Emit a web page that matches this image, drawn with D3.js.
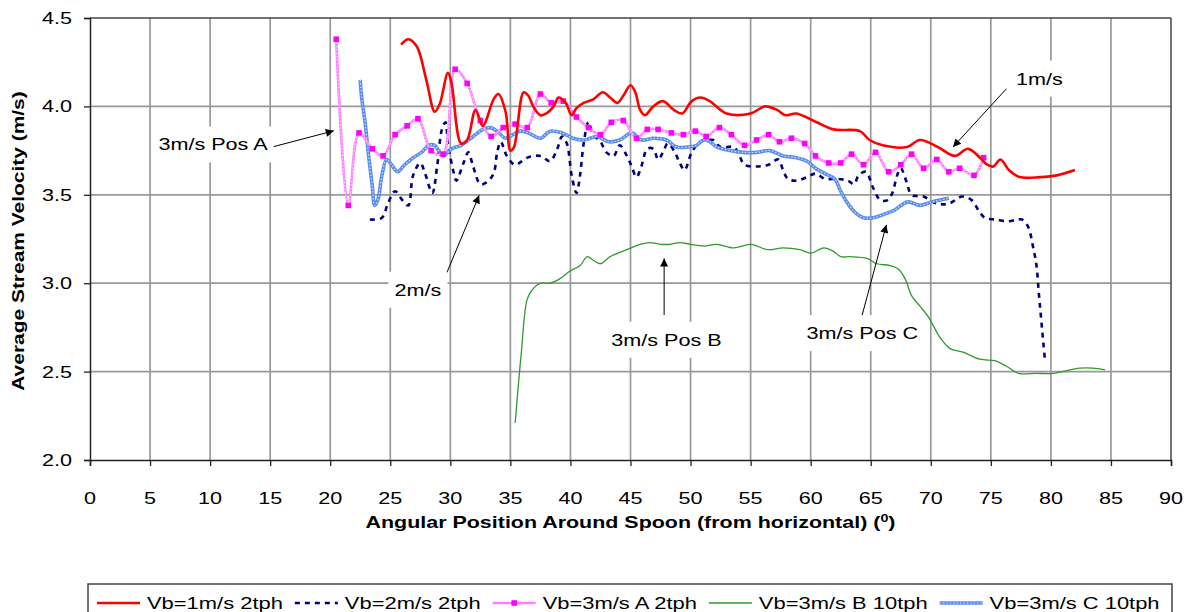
<!DOCTYPE html>
<html>
<head>
<meta charset="utf-8">
<title>Average Stream Velocity</title>
<script src="https://d3js.org/d3.v7.min.js"></script>
<style>
  body { margin: 0; background: #fff; }
  text { font-family: "Liberation Sans", Arial, sans-serif; fill: #000; }
</style>
</head>
<body>
<script>
// ---- data (angle in degrees, velocity in m/s) ----
var xTicks = [0,5,10,15,20,25,30,35,40,45,50,55,60,65,70,75,80,85,90];
var yTicks = [2.0,2.5,3.0,3.5,4.0,4.5];

var vb1 = [[25.9,4.35],[26.5,4.38],[27.2,4.34],[28.0,4.15],[28.7,3.97],[29.1,4.01],[29.8,4.19],[30.1,4.13],
  [30.9,3.79],[31.4,3.81],[32.1,3.98],[32.7,3.89],[33.6,4.04],[34.0,4.07],[34.6,3.97],[35.0,3.75],[35.3,3.77],
  [36.1,4.08],[36.5,4.06],[36.9,4.00],[37.5,3.95],[38.0,3.96],[38.6,4.00],[39.0,4.05],[39.6,4.02],[40.1,3.95],
  [40.5,3.99],[41.1,4.02],[41.9,4.04],[42.7,4.08],[43.3,4.05],[43.9,4.02],[44.4,4.06],[45.0,4.12],[45.4,4.08],
  [45.8,3.98],[46.2,3.95],[46.9,4.00],[47.7,4.03],[48.6,3.98],[49.3,3.96],[50.1,4.03],[50.8,4.05],[51.6,4.03],
  [53.0,3.96],[55.0,3.96],[56.2,4.00],[57.2,3.98],[57.9,3.95],[58.8,3.96],[60.5,3.91],[61.9,3.87],[64.1,3.86],
  [64.9,3.81],[66.0,3.78],[68.0,3.77],[69.1,3.81],[70.6,3.77],[72.0,3.72],[73.1,3.76],[74.1,3.71],[74.7,3.67],
  [75.2,3.66],[75.8,3.70],[76.5,3.64],[77.4,3.60],[79.1,3.60],[80.5,3.61],[82.0,3.64]];

var vb2 = [[23.3,3.36],[24.3,3.37],[24.8,3.45],[25.4,3.52],[26.0,3.47],[26.5,3.44],[26.9,3.61],[27.5,3.68],
  [27.9,3.62],[28.5,3.51],[28.9,3.66],[29.3,3.87],[29.6,3.91],[29.8,3.79],[30.3,3.62],[30.5,3.58],[31.1,3.68],
  [31.5,3.74],[31.9,3.66],[32.5,3.56],[33.0,3.57],[33.6,3.62],[33.9,3.74],[34.2,3.80],[34.7,3.72],[35.4,3.67],
  [36.4,3.71],[37.5,3.72],[38.3,3.69],[38.9,3.76],[39.3,3.83],[39.7,3.79],[40.1,3.61],[40.5,3.51],[40.8,3.61],
  [41.1,3.79],[41.5,3.91],[41.9,3.84],[42.5,3.80],[43.0,3.74],[43.6,3.72],[44.1,3.78],[44.7,3.72],[45.1,3.66],
  [45.5,3.60],[45.9,3.66],[46.4,3.76],[46.9,3.76],[47.3,3.70],[47.7,3.74],[48.1,3.79],[48.7,3.74],[49.1,3.68],
  [49.5,3.64],[50.1,3.74],[50.8,3.80],[51.5,3.81],[51.9,3.81],[52.5,3.77],[53.6,3.77],[54.0,3.73],[54.5,3.67],
  [55.5,3.66],[56.5,3.67],[57.3,3.70],[57.7,3.64],[58.1,3.59],[58.8,3.58],[59.7,3.60],[60.4,3.62],[61.2,3.59],
  [62.2,3.59],[63.1,3.58],[63.6,3.56],[64.0,3.61],[64.6,3.63],[65.2,3.54],[65.8,3.47],[66.4,3.47],[66.8,3.51],
  [67.2,3.61],[67.5,3.65],[68.0,3.57],[68.4,3.50],[69.4,3.49],[70.5,3.45],[71.5,3.45],[72.6,3.49],[73.4,3.47],
  [74.0,3.41],[74.5,3.37],[75.4,3.36],[76.5,3.35],[77.2,3.36],[77.6,3.36],[78.1,3.32],[78.5,3.21],[78.8,3.10],
  [79.0,2.94],[79.2,2.79],[79.4,2.64],[79.5,2.57]];

var vb3A = [[20.5,4.38],[21.5,3.44],[22.4,3.85],[23.5,3.76],[24.4,3.72],[25.4,3.84],[26.4,3.89],[27.3,3.93],
  [28.4,3.75],[29.4,3.73],[30.4,4.21],[31.4,4.13],[32.5,3.92],[33.4,3.83],[34.4,3.88],[35.4,3.90],[36.4,3.88],
  [37.5,4.07],[38.4,4.02],[39.4,4.03],[40.5,3.94],[41.5,3.88],[42.5,3.84],[43.4,3.91],[44.4,3.92],[45.5,3.82],
  [46.4,3.87],[47.3,3.87],[48.4,3.85],[49.4,3.84],[50.4,3.86],[51.3,3.83],[52.4,3.88],[53.4,3.84],[54.5,3.78],
  [55.5,3.81],[56.5,3.84],[57.4,3.80],[58.4,3.82],[59.5,3.79],[60.4,3.72],[61.5,3.68],[62.5,3.68],[63.4,3.73],
  [64.4,3.67],[65.4,3.74],[66.5,3.63],[67.5,3.67],[68.4,3.73],[69.4,3.65],[70.5,3.70],[71.5,3.63],[72.4,3.65],
  [73.6,3.61],[74.4,3.71]];

var vb3B = [[35.4,2.21],[35.9,2.60],[36.4,2.91],[36.8,2.96],[37.5,3.00],[38.3,3.00],[39.0,3.02],[40.0,3.07],
  [40.8,3.10],[41.4,3.15],[41.9,3.13],[42.5,3.11],[43.3,3.15],[44.7,3.19],[45.8,3.22],[46.6,3.23],[47.5,3.22],
  [48.3,3.22],[49.1,3.23],[50.0,3.22],[51.1,3.21],[52.2,3.22],[53.6,3.20],[55.0,3.22],[56.4,3.19],[57.7,3.20],
  [59.1,3.19],[60.0,3.17],[61.1,3.20],[61.9,3.18],[62.5,3.15],[63.3,3.15],[64.7,3.14],[65.5,3.11],[66.6,3.10],
  [67.3,3.08],[67.9,3.02],[68.4,2.93],[69.1,2.87],[69.8,2.81],[70.2,2.76],[70.8,2.69],[71.6,2.63],[72.7,2.61],
  [74.1,2.57],[75.4,2.56],[76.3,2.53],[77.3,2.49],[78.8,2.49],[80.2,2.49],[82.4,2.52],[83.5,2.52],[84.5,2.51]];

var vb3C = [[22.5,4.15],[22.6,4.06],[22.9,3.91],[23.2,3.72],[23.5,3.55],[23.7,3.44],[24.0,3.48],[24.3,3.61],
  [24.7,3.70],[25.1,3.67],[25.6,3.63],[26.2,3.67],[26.9,3.71],[27.6,3.74],[28.2,3.78],[28.7,3.78],[29.4,3.72],
  [30.1,3.76],[30.9,3.78],[31.9,3.83],[32.7,3.87],[33.3,3.88],[33.9,3.86],[34.6,3.82],[35.2,3.84],[35.8,3.86],
  [36.5,3.85],[37.5,3.82],[38.3,3.86],[39.3,3.85],[40.2,3.82],[41.2,3.81],[42.2,3.83],[43.2,3.80],[44.1,3.81],
  [45.1,3.85],[45.9,3.81],[46.9,3.82],[48.0,3.81],[48.8,3.77],[49.7,3.77],[50.5,3.78],[51.1,3.81],[51.6,3.80],
  [52.2,3.77],[53.3,3.75],[54.4,3.74],[55.5,3.74],[56.6,3.75],[57.7,3.72],[58.8,3.71],[59.7,3.69],[60.4,3.65],
  [61.2,3.62],[62.0,3.59],[62.5,3.52],[63.0,3.46],[63.7,3.40],[64.4,3.37],[65.2,3.37],[66.1,3.39],[66.9,3.41],
  [68.1,3.46],[69.1,3.44],[70.1,3.46],[71.5,3.48]];

var seriesNames = ["Vb=1m/s 2tph","Vb=2m/s 2tph","Vb=3m/s A 2tph","Vb=3m/s B 10tph","Vb=3m/s C 10tph"];

// annotation: label, label pos, arrow tail, arrow head (data units)
var notes = [
  {t:"3m/s Pos A", at:[10.24,3.785], from:[15.15,3.77], to:[20.3,3.862]},
  {t:"2m/s",       at:[27.3,2.963],  from:[29.65,3.05], to:[32.4,3.497]},
  {t:"3m/s Pos B", at:[48.0,2.68],   from:[47.8,2.82],  to:[47.8,3.14]},
  {t:"3m/s Pos C", at:[64.3,2.718],  from:[64.25,2.81], to:[66.3,3.33]},
  {t:"1m/s",       at:[79.05,4.157], from:[76.3,4.10],  to:[71.85,3.77]}
];

// ---- layout ----
var W = 1192, H = 612;
var L = 90, R = 1171, T = 18, B = 460;
var SX = 1.27; // text in the original is stretched sideways
var svg = d3.select("body").append("svg").attr("width", W).attr("height", H);

var x = d3.scaleLinear().domain([0,90]).range([L,R]);
var y = d3.scaleLinear().domain([2.0,4.5]).range([B,T]);

function sText(g, px, py, str, anchor, size, weight, rot, sx) {
  return g.append("text")
    .attr("transform", "translate(" + px + "," + py + ")" + (rot ? " rotate(" + rot + ")" : "") + " scale(" + (sx || SX) + ",1)")
    .attr("text-anchor", anchor)
    .style("font-size", size + "px")
    .style("font-weight", weight || "normal")
    .text(str);
}

// grid
var grid = svg.append("g");
grid.selectAll(".vx").data(xTicks.slice(1, -1)).enter().append("line")
  .attr("x1", d => x(d)).attr("x2", d => x(d)).attr("y1", T).attr("y2", B)
  .attr("stroke", "#999").attr("stroke-width", 1.7);
grid.selectAll(".hy").data(yTicks.slice(1, -1)).enter().append("line")
  .attr("x1", L).attr("x2", R).attr("y1", d => y(d)).attr("y2", d => y(d))
  .attr("stroke", "#999").attr("stroke-width", 1.7);

// frame
svg.append("line").attr("x1", L).attr("x2", R).attr("y1", T).attr("y2", T).attr("stroke", "#444").attr("stroke-width", 1.5);
svg.append("line").attr("x1", R).attr("x2", R).attr("y1", T).attr("y2", B).attr("stroke", "#444").attr("stroke-width", 1.5);

// axes
var xAxis = d3.axisBottom(x).tickValues(xTicks).tickSize(6).tickFormat("");
var yAxis = d3.axisLeft(y).tickValues(yTicks).tickSize(6).tickFormat("");
var gx = svg.append("g").attr("transform", "translate(0," + B + ")").call(xAxis);
var gy = svg.append("g").attr("transform", "translate(" + L + ",0)").call(yAxis);
[gx, gy].forEach(function(g) {
  g.select(".domain").attr("stroke", "#222").attr("stroke-width", 1.5);
  g.selectAll(".tick line").attr("stroke", "#222").attr("stroke-width", 1.3);
});
xTicks.forEach(function(t) { sText(svg, x(t), B + 44, String(t), "middle", 17); });
yTicks.forEach(function(t) { sText(svg, L - 18, y(t) + 6, t.toFixed(1), "end", 17); });

// axis titles
var xt = sText(svg, (L + R) / 2, 528, "Angular Position Around Spoon (from horizontal) (", "middle", 16.5, "bold", 0, 1.3);
xt.append("tspan").attr("dy", -6).style("font-size", "11px").text("0");
xt.append("tspan").attr("dy", 6).text(")");
sText(svg, 24, (T + B) / 2 + 2, "Average Stream Velocity (m/s)", "middle", 16.5, "bold", -90);

// series
var line = d3.line().x(d => x(d[0])).y(d => y(d[1])).curve(d3.curveCatmullRom.alpha(0.5));
var plot = svg.append("g");

plot.append("path").datum(vb3B).attr("d", line).attr("fill", "none")
  .attr("stroke", "#2f9a2f").attr("stroke-width", 1.3);

plot.append("path").datum(vb2).attr("d", line).attr("fill", "none")
  .attr("stroke", "#000080").attr("stroke-width", 2.6).attr("stroke-dasharray", "5,5");

plot.append("path").datum(vb3C).attr("d", line).attr("fill", "none")
  .attr("stroke", "#5b8def").attr("stroke-width", 3.6);
plot.append("path").datum(vb3C).attr("d", line).attr("fill", "none")
  .attr("stroke", "#dfe8fd").attr("stroke-width", 1.1).attr("stroke-dasharray", "1.4,2");

plot.append("path").datum(vb3A).attr("d", line).attr("fill", "none")
  .attr("stroke", "#ff80ff").attr("stroke-width", 2.6);
plot.append("path").datum(vb3A).attr("d", line).attr("fill", "none")
  .attr("stroke", "#ffe0ff").attr("stroke-width", 1).attr("stroke-dasharray", "1.4,2");
plot.selectAll(".mk").data(vb3A).enter().append("rect")
  .attr("x", d => x(d[0]) - 2.8).attr("y", d => y(d[1]) - 2.8)
  .attr("width", 5.6).attr("height", 5.6).attr("fill", "#ff00ff");

plot.append("path").datum(vb1).attr("d", line).attr("fill", "none")
  .attr("stroke", "#ff0000").attr("stroke-width", 2.6);

// annotations
svg.append("defs").append("marker").attr("id", "ah")
  .attr("viewBox", "0 0 10 10").attr("refX", 10).attr("refY", 5)
  .attr("markerWidth", 11).attr("markerHeight", 8).attr("markerUnits", "userSpaceOnUse")
  .attr("orient", "auto")
  .append("path").attr("d", "M0,0 L10,5 L0,10 Z").attr("fill", "#000");

var ann = svg.append("g");
notes.forEach(function(n) {
  ann.append("line")
    .attr("x1", x(n.from[0])).attr("y1", y(n.from[1]))
    .attr("x2", x(n.to[0])).attr("y2", y(n.to[1]))
    .attr("stroke", "#000").attr("stroke-width", 1).attr("marker-end", "url(#ah)");
  var bg = ann.append("rect").attr("fill", "#fff");
  var t = sText(ann, x(n.at[0]), y(n.at[1]) + 6, n.t, "middle", 17);
  var bb = t.node().getBBox();
  var w = bb.width * SX;
  bg.attr("x", x(n.at[0]) - w / 2 - 6).attr("y", y(n.at[1]) - 18)
    .attr("width", w + 12).attr("height", 36);
});

// legend
var lg = svg.append("g");
lg.append("rect").attr("x", 88).attr("y", 584).attr("width", 1084).attr("height", 60)
  .attr("fill", "#fff").attr("stroke", "#444").attr("stroke-width", 1.5);
var lx = 97, ly = 603, LSX = 1.29;
seriesNames.forEach(function(name, i) {
  var s = lg.append("line").attr("x1", lx).attr("x2", lx + 43).attr("y1", ly).attr("y2", ly).attr("fill", "none");
  if (i === 0) s.attr("stroke", "#ff0000").attr("stroke-width", 2.6);
  if (i === 1) s.attr("stroke", "#000080").attr("stroke-width", 2.6).attr("stroke-dasharray", "5,5");
  if (i === 2) {
    s.attr("stroke", "#ff80ff").attr("stroke-width", 2.6);
    lg.append("rect").attr("x", lx + 18.7).attr("y", ly - 2.8).attr("width", 5.6).attr("height", 5.6).attr("fill", "#ff00ff");
  }
  if (i === 3) s.attr("stroke", "#2f9a2f").attr("stroke-width", 1.5);
  if (i === 4) {
    s.attr("stroke", "#5b8def").attr("stroke-width", 3.6);
    lg.append("line").attr("x1", lx).attr("x2", lx + 43).attr("y1", ly).attr("y2", ly)
      .attr("stroke", "#dfe8fd").attr("stroke-width", 1.1).attr("stroke-dasharray", "1.4,2");
  }
  var t = sText(lg, lx + 50, ly + 6, name, "start", 17, "normal", 0, LSX);
  lx += 50 + t.node().getBBox().width * LSX + 12;
});
</script>
</body>
</html>
